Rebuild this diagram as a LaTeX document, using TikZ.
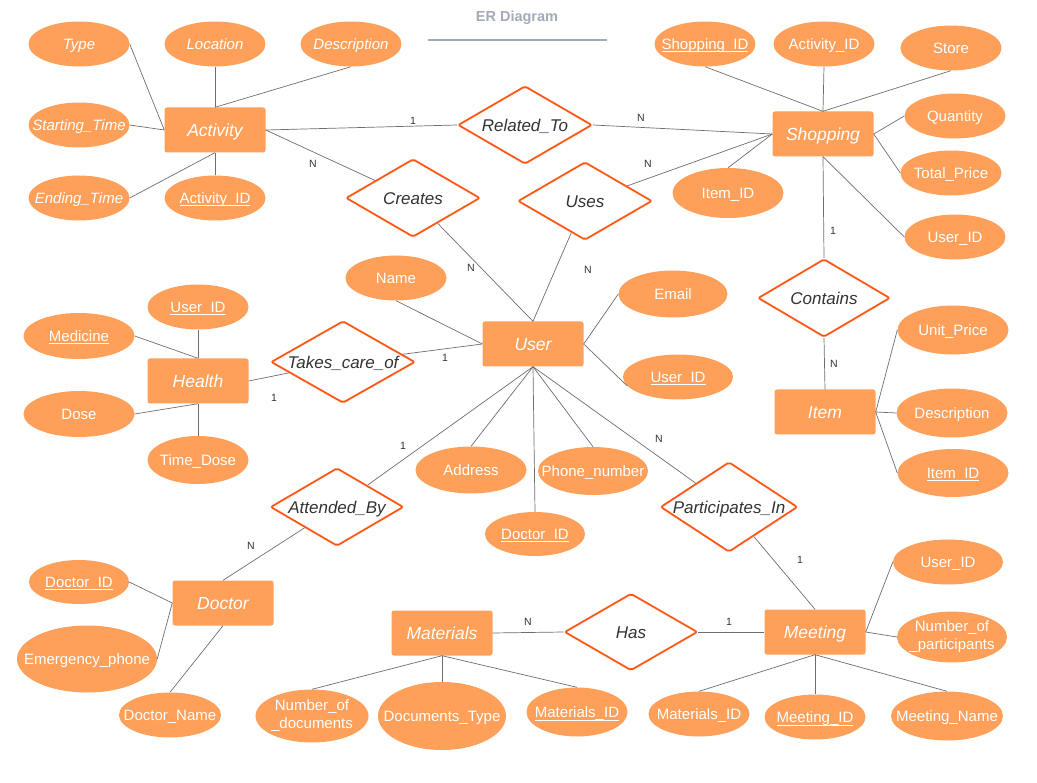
\documentclass[tikz,border=0pt]{standalone}
\usepackage{fontspec}
\setmainfont{Liberation Sans}
\usetikzlibrary{shapes.geometric}

\definecolor{attrfill}{RGB}{255,160,90}
\definecolor{relline}{RGB}{255,87,20}
\definecolor{conn}{RGB}{110,110,110}
\definecolor{reltext}{RGB}{51,51,51}
\definecolor{titlegray}{RGB}{163,170,184}

% zero-width centred text, so the shapes keep their set size
\newcommand\cb[1]{\makebox[0pt]{#1}}
% key attributes: underline drawn at the level of the underscore
\newcommand\keyattr[1]{\setbox0\hbox{#1}\rlap{\rule[-3pt]{\wd0}{0.9pt}}\box0}
\newcommand\twoline[2]{\makebox[0pt]{\begin{tabular}{@{}c@{}}#1\\#2\end{tabular}}}

\tikzset{
  entity/.style={rectangle, rounded corners=2.5pt, fill=attrfill,
    minimum width=101pt, minimum height=45pt, inner sep=0pt,
    font=\fontsize{17.5}{20}\selectfont\itshape, text=white,
    text height=12.5pt, text depth=0pt},
  attr/.style={ellipse, fill=attrfill, minimum width=101pt, minimum height=45pt,
    inner sep=0pt, font=\fontsize{15}{18}\selectfont, text=white,
    text height=10.8pt, text depth=0pt},
  attrit/.style={attr, font=\fontsize{15}{18}\selectfont\itshape},
  multi/.style={text height={}, text depth={}},
  rel/.style={diamond, draw=relline, line width=1.8pt, fill=white,
    rounded corners=2pt, minimum width=134pt, minimum height=78pt,
    inner sep=0pt, font=\fontsize{17}{20}\selectfont\itshape, text=reltext,
    text height=12.2pt, text depth=0pt},
  card/.style={font=\fontsize{10.5}{12}\selectfont, text=reltext, inner sep=0pt},
  link/.style={draw=conn, line width=0.7pt},
}

\begin{document}
\begin{tikzpicture}[x=1pt, y=-1pt]
\fill[white] (0,0) rectangle (1037,783);
\useasboundingbox (0,0) rectangle (1037,783);

% title
\node[font=\fontsize{14.5}{17}\selectfont\bfseries, text=titlegray] (title) at (517,18) {ER Diagram};
\coordinate (tl) at (428,40);
\coordinate (tr) at (607,40);
\draw[titlegray, line width=1.3pt] (tl) -- (tr);

% ---------- entities ----------
\node[entity] (act) at (215,130) {\cb{Activity}};
\node[entity] (shop) at (823,134) {\cb{Shopping}};
\node[entity] (user) at (533,344) {\cb{User}};
\node[entity] (health) at (198,381) {\cb{Health}};
\node[entity] (item) at (825,412) {\cb{Item}};
\node[entity] (doc) at (223,603) {\cb{Doctor}};
\node[entity] (mat) at (442,633) {\cb{Materials}};
\node[entity] (meet) at (815,632) {\cb{Meeting}};

% ---------- relationships ----------
\node[rel] (relto) at (525,125) {\cb{Related\_To}};
\node[rel] (creates) at (413,198) {\cb{Creates}};
\node[rel] (uses) at (585,201) {\cb{Uses}};
\node[rel, minimum width=132pt] (contains) at (824,298) {\cb{Contains}};
\node[rel, minimum width=144pt, minimum height=82pt] (tco) at (343,362) {\cb{Takes\_care\_of}};
\node[rel, minimum width=133pt] (attby) at (337,507) {\cb{Attended\_By}};
\node[rel, minimum width=137pt, minimum height=90pt] (partin) at (729,507) {\cb{Participates\_In}};
\node[rel, minimum width=133pt, minimum height=77pt] (has) at (631,632) {\cb{Has}};

% ---------- attributes: Activity ----------
\node[attrit] (atype) at (79,44) {\cb{Type}};
\node[attrit] (aloc) at (215,44) {\cb{Location}};
\node[attrit] (adesc) at (351,44) {\cb{Description}};
\node[attrit] (astart) at (79,125) {\cb{Starting\_Time}};
\node[attrit] (aend) at (79,198) {\cb{Ending\_Time}};
\node[attr] (aid) at (215,198) {\cb{\keyattr{Activity\_ID}}};

% ---------- attributes: Shopping ----------
\node[attr] (sid) at (705,44) {\cb{\keyattr{Shopping\_ID}}};
\node[attr] (said) at (824,44) {\cb{Activity\_ID}};
\node[attr] (sstore) at (951,48) {\cb{Store}};
\node[attr] (sqty) at (955,116) {\cb{Quantity}};
\node[attr] (stp) at (951,173) {\cb{Total\_Price}};
\node[attr, minimum width=111pt, minimum height=50pt] (siid) at (728,193) {\cb{Item\_ID}};
\node[attr] (suid) at (955,237) {\cb{User\_ID}};

% ---------- attributes: User ----------
\node[attr] (uname) at (396,278) {\cb{Name}};
\node[attr, minimum width=109pt, minimum height=47pt] (uemail) at (673,294) {\cb{Email}};
\node[attr, minimum width=110pt] (uid) at (678,377) {\cb{\keyattr{User\_ID}}};
\node[attr, minimum width=111pt, minimum height=47pt] (uaddr) at (471,470) {\cb{Address}};
\node[attr, minimum width=110pt, minimum height=48pt] (uphone) at (593,471) {\cb{Phone\_number}};
\node[attr, minimum width=100pt, minimum height=44pt] (udid) at (535,534) {\cb{\keyattr{Doctor\_ID}}};

% ---------- attributes: Health ----------
\node[attr] (huid) at (198,307) {\cb{\keyattr{User\_ID}}};
\node[attr, minimum width=111pt, minimum height=46pt] (hmed) at (79,336) {\cb{\keyattr{Medicine}}};
\node[attr, minimum width=111pt, minimum height=46pt] (hdose) at (79,414) {\cb{Dose}};
\node[attr, minimum height=48pt] (htd) at (198,460) {\cb{Time\_Dose}};

% ---------- attributes: Item ----------
\node[attr, minimum width=111pt, minimum height=49pt] (iup) at (953,330) {\cb{Unit\_Price}};
\node[attr, minimum width=111pt, minimum height=49pt] (idesc) at (952,413) {\cb{Description}};
\node[attr, minimum width=111pt, minimum height=48pt] (iid) at (953,473) {\cb{\keyattr{Item\_ID}}};

% ---------- attributes: Doctor ----------
\node[attr, minimum width=100pt, minimum height=44pt] (docid) at (79,582) {\cb{\keyattr{Doctor\_ID}}};
\node[attr, minimum width=140pt, minimum height=67pt] (demg) at (87,659) {\cb{Emergency\_phone}};
\node[attr, minimum width=102pt] (dname) at (170,715) {\cb{Doctor\_Name}};

% ---------- attributes: Materials ----------
\node[attr, multi, minimum width=113pt, minimum height=53pt] (mnod) at (312,716) {\twoline{Number\_of}{\_documents}};
\node[attr, minimum width=128pt, minimum height=68pt] (mdt) at (442,716) {\cb{Documents\_Type}};
\node[attr, minimum height=49pt] (mmid) at (577,712) {\cb{\keyattr{Materials\_ID}}};

% ---------- attributes: Meeting ----------
\node[attr, minimum width=110pt] (meuid) at (948,562) {\cb{User\_ID}};
\node[attr, multi, minimum width=110pt, minimum height=50pt] (menop) at (952,637) {\twoline{Number\_of}{\_participants}};
\node[attr] (memid) at (699,714) {\cb{Materials\_ID}};
\node[attr] (meid) at (815,717) {\cb{\keyattr{Meeting\_ID}}};
\node[attr, minimum width=112pt, minimum height=49pt] (mename) at (947,716) {\cb{Meeting\_Name}};

% ---------- attribute links ----------
\path[link] (atype.east) -- (act.west);
\path[link] (aloc.south) -- (act.north);
\path[link] (adesc.south) -- (act.north);
\path[link] (astart.east) -- (act.west);
\path[link] (aend.east) -- (act.south);
\path[link] (aid.north) -- (act.south);

\path[link] (sid.south) -- (shop.north);
\path[link] (said.south) -- (shop.north);
\path[link] (sstore.south) -- (shop.north);
\path[link] (sqty.west) -- (shop.east);
\path[link] (stp.west) -- (shop.east);
\path[link] (suid.west) -- (shop.south);
\path[link] (siid.north) -- (shop.west);

\path[link] (uname.south) -- (user.west);
\path[link] (uemail.west) -- (user.east);
\path[link] (uid.190) -- (user.east);
\path[link] (uaddr.north) -- (user.south);
\path[link] (uphone.north) -- (user.south);
\path[link] (udid.north) -- (user.south);

\path[link] (huid.south) -- (health.north);
\path[link] (hmed.east) -- (health.north);
\path[link] (hdose.east) -- (health.south);
\path[link] (htd.north) -- (health.south);

\path[link] (item.east) -- (iup.west);
\path[link] (item.east) -- (idesc.west);
\path[link] (item.east) -- (iid.west);

\path[link] (docid.east) -- (doc.west);
\path[link] (demg.east) -- (doc.west);
\path[link] (dname.north) -- (doc.south);

\path[link] (mat.south) -- (mnod.north);
\path[link] (mat.south) -- (mdt.north);
\path[link] (mat.south) -- (mmid.north);

\path[link] (meet.east) -- (meuid.west);
\path[link] (meet.east) -- (menop.west);
\path[link] (meet.south) -- (memid.north);
\path[link] (meet.south) -- (meid.north);
\path[link] (meet.south) -- (mename.north);

% ---------- relationship links ----------
\path[link] (act.east) -- (relto.west);
\path[link] (relto.east) -- (shop.west);
\path[link] (act.east) -- (creates);
\path[link] (creates) -- (user.north);
\path[link] (uses) -- (user.north);
\path[link] (uses) -- (shop.west);
\path[link] (shop.south) -- (contains.north);
\path[link] (contains.south) -- (item.north);
\path[link] (health.east) -- (tco);
\path[link] (tco) -- (user.west);
\path[link] (user.south) -- (attby);
\path[link] (attby) -- (doc.north);
\path[link] (user.south) -- (partin);
\path[link] (partin) -- (meet.north);
\path[link] (mat.east) -- (has.west);
\path[link] (has.east) -- (meet.west);

% ---------- cardinalities ----------
\node[card] (c1) at (413,121) {1};
\node[card] (c2) at (641,118) {N};
\node[card] (c3) at (313,164) {N};
\node[card] (c4) at (648,164) {N};
\node[card] (c5) at (471,268) {N};
\node[card] (c6) at (588,270) {N};
\node[card] (c7) at (833,231) {1};
\node[card] (c8) at (834,364) {N};
\node[card] (c9) at (445,358) {1};
\node[card] (c10) at (274,398) {1};
\node[card] (c11) at (403,446) {1};
\node[card] (c12) at (659,439) {N};
\node[card] (c13) at (251,546) {N};
\node[card] (c14) at (528,622) {N};
\node[card] (c15) at (729,622) {1};
\node[card] (c16) at (800,560) {1};
\end{tikzpicture}
\end{document}
